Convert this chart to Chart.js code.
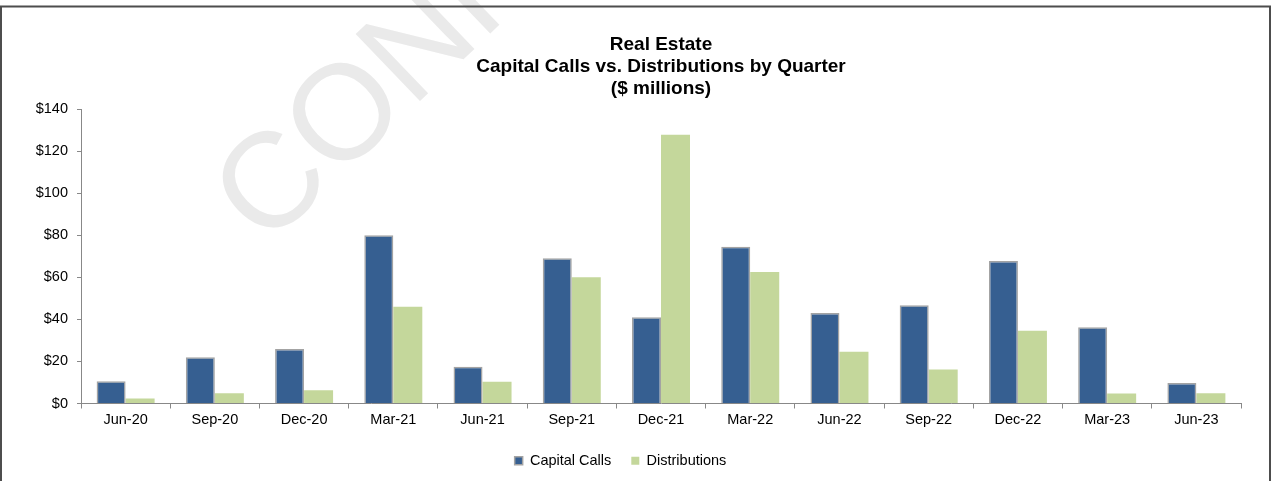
<!DOCTYPE html>
<html>
<head>
<meta charset="utf-8">
<title>Real Estate - Capital Calls vs. Distributions</title>
<script src="https://cdn.jsdelivr.net/npm/chart.js@4.4.1/dist/chart.umd.min.js"></script>
<style>
  html, body { margin: 0; padding: 0; background: #fff; overflow: hidden; }
  #wrap { position: relative; width: 1272px; height: 481px; }
</style>
</head>
<body>
<div id="wrap"><canvas id="quarterChart"></canvas></div>
<script>
// quarterly figures, $ millions
const quarters = ['Jun-20', 'Sep-20', 'Dec-20', 'Mar-21', 'Jun-21', 'Sep-21', 'Dec-21',
  'Mar-22', 'Jun-22', 'Sep-22', 'Dec-22', 'Mar-23', 'Jun-23'];
const capitalCalls = [10.6, 22, 25.9, 80, 17.5, 69, 41, 74.5, 43, 46.7, 67.8, 36.3, 9.7];
const distributions = [2.4, 4.9, 6.3, 46, 10.3, 60, 127.8, 62.5, 24.6, 16.2, 34.6, 4.8, 4.9];
const yTicks = [0, 20, 40, 60, 80, 100, 120, 140];
const titleLines = ['Real Estate', 'Capital Calls vs. Distributions by Quarter', '($ millions)'];

const FONT = "'Liberation Sans', Arial, sans-serif";

// faint stamp behind the plot + outer frame
const stampAndFrame = {
  id: 'stampAndFrame',
  beforeDraw(chart) {
    const ctx = chart.ctx;
    ctx.save();
    ctx.translate(240, 222);
    ctx.rotate(-43.8 * Math.PI / 180);
    ctx.font = '135px ' + FONT;
    ctx.fillStyle = '#eaeaea';
    ctx.textAlign = 'left';
    ctx.textBaseline = 'middle';
    ctx.fillText('CONFIDENTIAL', 0, 0);
    ctx.restore();
  },
  afterDraw(chart) {
    const ctx = chart.ctx;
    ctx.save();
    ctx.strokeStyle = '#4d4d4d';
    ctx.lineWidth = 2;
    ctx.strokeRect(1, 6.5, 1269, 490);
    ctx.restore();
  }
};

new Chart(document.getElementById('quarterChart'), {
  type: 'bar',
  data: {
    labels: quarters,
    datasets: [
      {
        label: 'Capital Calls',
        data: capitalCalls,
        backgroundColor: '#365f91',
        borderColor: '#a3a3a3',
        borderWidth: 1.5
      },
      {
        label: 'Distributions',
        data: distributions,
        backgroundColor: '#c4d79b',
        borderWidth: 0
      }
    ]
  },
  options: {
    responsive: true,
    maintainAspectRatio: false,
    animation: false,
    categoryPercentage: 0.65,
    barPercentage: 1,
    layout: { padding: { top: 10, right: 31, bottom: 3, left: 0 } },
    plugins: {
      tooltip: { enabled: false },
      title: {
        display: true,
        text: titleLines,
        fullSize: false,
        color: '#000',
        font: { family: FONT, size: 19, weight: 'bold', lineHeight: 22 / 19 },
        padding: { top: 24, bottom: 9 }
      },
      legend: {
        position: 'bottom',
        labels: {
          color: '#000',
          font: { family: FONT, size: 14.5 },
          boxWidth: 8,
          boxHeight: 8,
          padding: 20
        }
      }
    },
    scales: {
      x: {
        afterFit(scale) { scale.height = 30; },
        grid: { drawOnChartArea: false, tickLength: 5, color: '#888' },
        border: { color: '#888' },
        ticks: { color: '#000', font: { family: FONT, size: 14.5 }, padding: 3, maxRotation: 0 }
      },
      y: {
        min: 0,
        max: 140,
        afterFit(scale) { scale.width = 81; },
        afterBuildTicks(scale) { scale.ticks = yTicks.map(v => ({ value: v })); },
        grid: { drawOnChartArea: false, tickLength: 4, color: '#888' },
        border: { color: '#888' },
        ticks: {
          color: '#000',
          font: { family: FONT, size: 14.5 },
          padding: 9,
          callback: v => '$' + v
        }
      }
    }
  },
  plugins: [stampAndFrame]
});
</script>
</body>
</html>
